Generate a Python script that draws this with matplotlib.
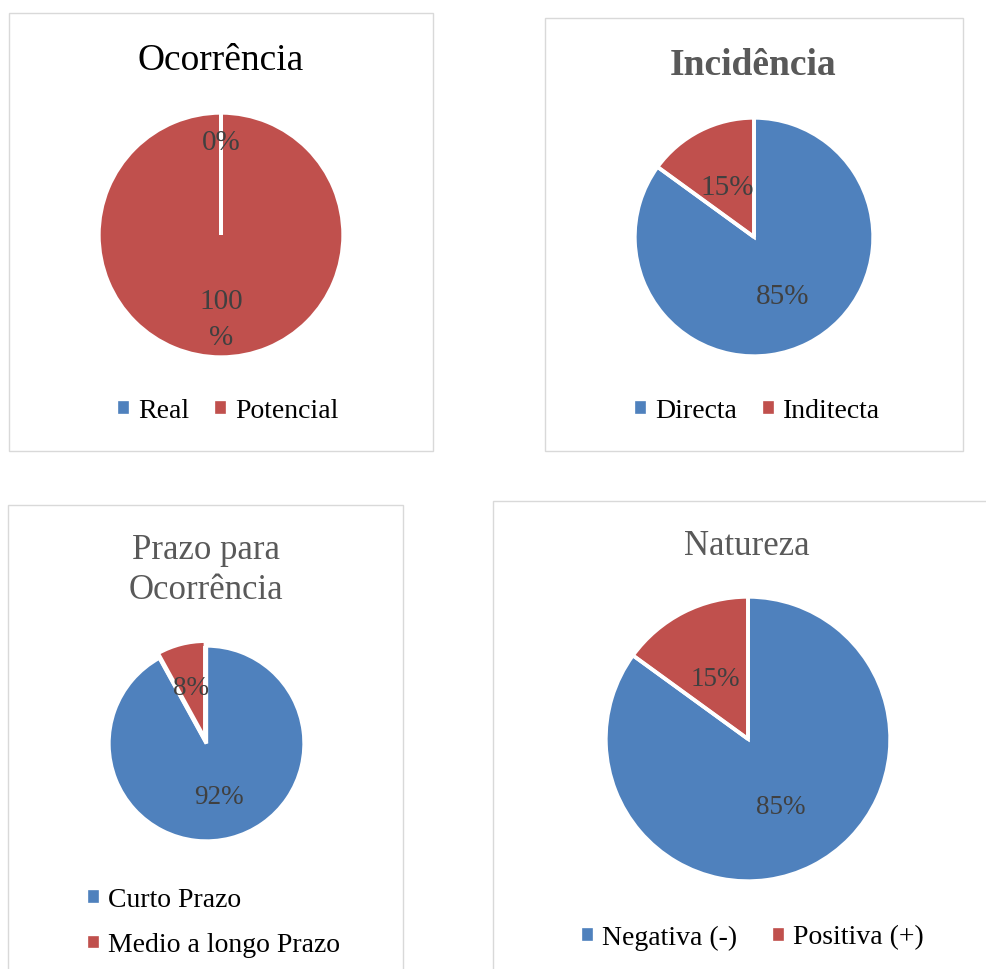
import matplotlib
matplotlib.use("Agg")
import matplotlib.pyplot as plt
from matplotlib.patches import Rectangle
import numpy as np

W, H = 987, 970

BLUE = "#4F81BD"
RED = "#C0504D"
LABEL_GREY = "#404040"
TITLE_GREY = "#595959"
BORDER = "#D9D9D9"
SERIF = ["Liberation Serif", "DejaVu Serif"]

# ---- data -------------------------------------------------------------
ocorrencia_cats = ["Real", "Potencial"]
ocorrencia_vals = [0, 100]

incidencia_cats = ["Directa", "Inditecta"]
incidencia_vals = [85, 15]

prazo_cats = ["Curto Prazo", "Medio a longo Prazo"]
prazo_vals = [92, 8]

natureza_cats = ["Negativa (-)", "Positiva (+)"]
natureza_vals = [85, 15]

fig = plt.figure(figsize=(W / 100, H / 100), dpi=100)
fig.patch.set_facecolor("white")


def fx(x):
    return x / W


def fy(y):
    return 1 - y / H


def frame(x0, y0, x1, y1):
    fig.patches.append(Rectangle((fx(x0), fy(y1)), fx(x1) - fx(x0), fy(y0) - fy(y1),
                                 transform=fig.transFigure, fill=False,
                                 edgecolor=BORDER, linewidth=1.0, zorder=0))


LEGEND_KW = dict(frameon=False, prop=dict(family=SERIF, size=20),
                 handlelength=0.5, handleheight=0.5, handletextpad=0.3,
                 borderpad=0, borderaxespad=0)


def pie_panel(vals, cats, cx, cy, r, dists, label_size, explode=None, texts=None):
    ax = fig.add_axes([fx(cx - r), fy(cy + r), fx(2 * r), 2 * r / H])
    wedges, _ = ax.pie(vals, colors=[BLUE, RED], startangle=90, counterclock=False,
                       explode=explode, radius=1,
                       wedgeprops=dict(edgecolor="white", linewidth=2.4))
    ax.set_xlim(-1, 1)
    ax.set_ylim(-1, 1)
    ax.axis("off")
    for w in wedges:
        w.set_clip_on(False)
    # white separator along every slice boundary (also shows empty slices)
    for w in wedges:
        t = np.deg2rad(w.theta1)
        ax.plot([w.center[0], w.center[0] + w.r * np.cos(t)],
                [w.center[1], w.center[1] + w.r * np.sin(t)],
                color="white", linewidth=2.8, solid_capstyle="butt", zorder=3)
    total = float(sum(vals))
    for i, (w, v) in enumerate(zip(wedges, vals)):
        mid = np.deg2rad((w.theta1 + w.theta2) / 2)
        x = w.center[0] + dists[i] * w.r * np.cos(mid)
        y = w.center[1] + dists[i] * w.r * np.sin(mid)
        txt = texts[i] if texts else f"{v / total * 100:.0f}%"
        ax.text(x, y, txt, ha="center", va="center_baseline", fontsize=label_size,
                color=LABEL_GREY, family=SERIF, linespacing=1.5, zorder=4)
    return wedges


# ---- panel 1: Ocorrência ---------------------------------------------
frame(9, 14, 433, 452)
fig.text(fx(221), fy(70), "Ocorrência", ha="center", va="baseline",
         fontsize=27, color="black", family=SERIF)
w1 = pie_panel(ocorrencia_vals, ocorrencia_cats, 221, 236, 122, [0.79, 0.62], 21,
               texts=[f"{ocorrencia_vals[0]}%", f"{ocorrencia_vals[1]}\n%"])
fig.legend(w1, ocorrencia_cats, loc="center", bbox_to_anchor=(fx(227), fy(411)),
           ncol=2, columnspacing=0.85, **LEGEND_KW)

# ---- panel 2: Incidência ---------------------------------------------
frame(545, 19, 963, 452)
fig.text(fx(753), fy(75), "Incidência", ha="center", va="baseline",
         fontsize=27, color=TITLE_GREY, family=SERIF, fontweight="bold")
w2 = pie_panel(incidencia_vals, incidencia_cats, 754, 238, 119, [0.53, 0.5], 21)
fig.legend(w2, incidencia_cats, loc="center", bbox_to_anchor=(fx(757), fy(411)),
           ncol=2, columnspacing=0.85, **LEGEND_KW)

# ---- panel 3: Prazo para Ocorrência ----------------------------------
frame(8, 506, 403, 1000)
fig.text(fx(206), fy(559), "Prazo para", ha="center", va="baseline",
         fontsize=25, color=TITLE_GREY, family=SERIF)
fig.text(fx(206), fy(599), "Ocorrência", ha="center", va="baseline",
         fontsize=25, color=TITLE_GREY, family=SERIF)
w3 = pie_panel(prazo_vals, prazo_cats, 206.5, 744.5, 97.5, [0.53, 0.57], 19.5,
               explode=[0, 0.05])
fig.legend(w3, prazo_cats, loc="center left", bbox_to_anchor=(fx(86), fy(923)),
           ncol=1, labelspacing=0.75, **LEGEND_KW)

# ---- panel 4: Natureza -----------------------------------------------
frame(493, 502, 1100, 1000)
fig.text(fx(747), fy(555), "Natureza", ha="center", va="baseline",
         fontsize=25, color=TITLE_GREY, family=SERIF)
w4 = pie_panel(natureza_vals, natureza_cats, 748, 740, 142, [0.51, 0.5], 19.5)
fig.legend(w4, natureza_cats, loc="center", bbox_to_anchor=(fx(752), fy(938)),
           ncol=2, columnspacing=1.2, **LEGEND_KW)

fig.savefig("out.png", dpi=100)
